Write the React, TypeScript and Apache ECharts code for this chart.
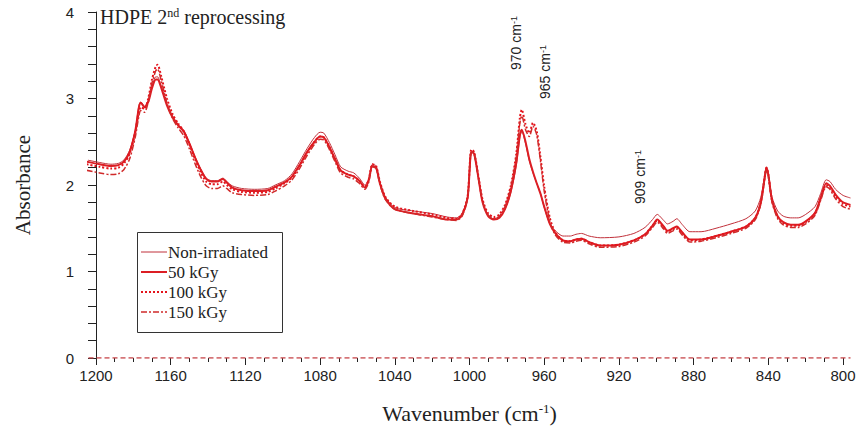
import React, { useEffect, useRef } from "react";
import * as echarts from "echarts";

const wavenumbers = [
  1205, 1198, 1192, 1188, 1185, 1182, 1179, 1177, 1176, 1174, 1172, 1170, 1168, 1167, 1165, 1162, 1159, 1156, 1153, 1150,
  1147, 1144, 1141, 1138, 1135, 1132, 1130, 1127, 1122, 1115, 1108, 1104, 1099, 1095, 1091, 1087, 1083, 1080, 1078, 1075,
  1072, 1069, 1065, 1062, 1059, 1056, 1054, 1052, 1050, 1048, 1045, 1040, 1030, 1020, 1012, 1007, 1004, 1001, 999, 997.5,
  995, 993, 990, 987, 984, 981, 978, 975, 973, 972, 970, 968, 966, 964, 962, 960, 957, 954, 950, 946,
  943, 940, 936, 930, 920, 912, 906, 902, 899.5, 896, 894, 891, 889, 886, 882, 876, 868, 860, 852, 847,
  844, 842, 841, 840, 838, 835, 832, 828, 824, 820, 815, 812, 809, 807, 804, 800, 796,
];

const nonIrradiated = [
  2.29, 2.26, 2.24, 2.25, 2.29, 2.40, 2.63, 2.92, 2.96, 2.91, 2.98, 3.14, 3.25, 3.25, 3.14, 2.93, 2.80, 2.70, 2.63, 2.49,
  2.33, 2.19, 2.08, 2.05, 2.05, 2.08, 2.04, 1.99, 1.96, 1.95, 1.96, 2.00, 2.05, 2.13, 2.27, 2.42, 2.55, 2.61, 2.60, 2.49,
  2.35, 2.21, 2.16, 2.14, 2.08, 2.00, 2.07, 2.24, 2.22, 2.04, 1.86, 1.74, 1.70, 1.67, 1.63, 1.62, 1.67, 1.86, 2.39, 2.37,
  2.06, 1.81, 1.65, 1.61, 1.63, 1.72, 1.90, 2.22, 2.56, 2.62, 2.48, 2.28, 2.14, 2.02, 1.90, 1.74, 1.55, 1.47, 1.41, 1.41,
  1.43, 1.44, 1.41, 1.39, 1.40, 1.44, 1.51, 1.60, 1.66, 1.59, 1.55, 1.58, 1.61, 1.54, 1.46, 1.46, 1.50, 1.55, 1.61, 1.70,
  1.86, 2.10, 2.21, 2.14, 1.86, 1.70, 1.64, 1.62, 1.62, 1.66, 1.75, 1.90, 2.06, 2.04, 1.95, 1.88, 1.85,
];

const kGy50 = [
  2.27, 2.24, 2.22, 2.23, 2.27, 2.38, 2.62, 2.90, 2.95, 2.90, 2.96, 3.12, 3.22, 3.22, 3.12, 2.92, 2.78, 2.69, 2.62, 2.48,
  2.32, 2.18, 2.07, 2.04, 2.04, 2.07, 2.03, 1.97, 1.94, 1.93, 1.94, 1.98, 2.03, 2.10, 2.23, 2.38, 2.50, 2.56, 2.55, 2.44,
  2.30, 2.17, 2.12, 2.10, 2.05, 1.97, 2.05, 2.22, 2.20, 2.02, 1.84, 1.72, 1.67, 1.64, 1.60, 1.60, 1.65, 1.85, 2.38, 2.36,
  2.05, 1.80, 1.64, 1.60, 1.62, 1.72, 1.92, 2.25, 2.58, 2.64, 2.50, 2.30, 2.15, 2.02, 1.90, 1.75, 1.55, 1.44, 1.36, 1.35,
  1.37, 1.38, 1.34, 1.30, 1.31, 1.36, 1.43, 1.53, 1.60, 1.52, 1.47, 1.50, 1.52, 1.45, 1.37, 1.37, 1.41, 1.46, 1.52, 1.62,
  1.80, 2.08, 2.20, 2.12, 1.82, 1.64, 1.57, 1.54, 1.54, 1.58, 1.68, 1.85, 2.02, 1.99, 1.89, 1.80, 1.77,
];

const kGy100 = [
  2.24, 2.21, 2.19, 2.20, 2.25, 2.36, 2.60, 2.85, 2.90, 2.88, 3.00, 3.22, 3.37, 3.39, 3.25, 3.00, 2.82, 2.71, 2.62, 2.47,
  2.30, 2.15, 2.04, 2.01, 2.01, 2.04, 2.00, 1.95, 1.92, 1.91, 1.92, 1.96, 2.02, 2.09, 2.22, 2.37, 2.50, 2.56, 2.55, 2.44,
  2.30, 2.17, 2.12, 2.10, 2.05, 1.98, 2.06, 2.24, 2.22, 2.04, 1.86, 1.75, 1.70, 1.66, 1.62, 1.61, 1.66, 1.87, 2.41, 2.38,
  2.07, 1.83, 1.67, 1.63, 1.66, 1.77, 1.98, 2.35, 2.78, 2.87, 2.70, 2.60, 2.72, 2.62, 2.32, 1.98, 1.62, 1.45, 1.36, 1.35,
  1.37, 1.38, 1.34, 1.30, 1.31, 1.36, 1.43, 1.53, 1.59, 1.51, 1.46, 1.49, 1.51, 1.44, 1.36, 1.37, 1.41, 1.46, 1.52, 1.62,
  1.80, 2.08, 2.20, 2.12, 1.82, 1.63, 1.56, 1.53, 1.53, 1.57, 1.67, 1.84, 2.00, 1.97, 1.87, 1.78, 1.75,
];

const kGy150 = [
  2.17, 2.14, 2.12, 2.13, 2.18, 2.30, 2.55, 2.80, 2.86, 2.84, 2.96, 3.18, 3.32, 3.34, 3.20, 2.95, 2.77, 2.66, 2.57, 2.42,
  2.25, 2.10, 1.99, 1.96, 1.96, 1.99, 1.96, 1.91, 1.89, 1.88, 1.89, 1.93, 1.99, 2.06, 2.19, 2.34, 2.47, 2.53, 2.52, 2.41,
  2.27, 2.14, 2.09, 2.07, 2.02, 1.95, 2.03, 2.21, 2.19, 2.01, 1.83, 1.72, 1.67, 1.63, 1.60, 1.59, 1.64, 1.85, 2.39, 2.36,
  2.05, 1.81, 1.65, 1.61, 1.64, 1.75, 1.96, 2.32, 2.72, 2.80, 2.64, 2.56, 2.68, 2.58, 2.28, 1.93, 1.58, 1.42, 1.34, 1.33,
  1.35, 1.36, 1.32, 1.28, 1.29, 1.34, 1.41, 1.51, 1.57, 1.49, 1.44, 1.47, 1.49, 1.42, 1.34, 1.35, 1.39, 1.44, 1.50, 1.60,
  1.78, 2.06, 2.18, 2.10, 1.80, 1.61, 1.54, 1.51, 1.51, 1.55, 1.65, 1.82, 1.98, 1.95, 1.84, 1.75, 1.72,
];

const baselineX = [1204, 796];
const baselineY = [0, 0];

const seriesNames = ["Non-irradiated", "50 kGy", "100 kGy", "150 kGy"];
const xTicks = [1200, 1160, 1120, 1080, 1040, 1000, 960, 920, 880, 840, 800];
const xMinorTicks = [
  1190, 1180, 1170, 1150, 1140, 1130, 1110, 1100, 1090, 1070, 1060, 1050, 1030, 1020, 1010, 990, 980, 970, 950, 940, 930,
  910, 900, 890, 870, 860, 850, 830, 820, 810,
];
const xRange = [796, 1204];
const yTicks = [0, 1, 2, 3, 4];

const pair = (ys: number[]) => wavenumbers.map((w, i) => [w, ys[i]]);

export default function App() {
  const ref = useRef<HTMLDivElement>(null);
  useEffect(() => {
    if (!ref.current) return;
    document.body.style.margin = "0";
    const chart = echarts.init(ref.current, null, { renderer: "svg" });
    const red = "#dc1e24";
    const sans = "Liberation Sans";
    const serif = "Liberation Serif";
    const mkSeries = (name: string, ys: number[], width: number, color: string, type: any) => ({
      name,
      type: "line",
      data: pair(ys),
      showSymbol: false,
      symbol: "none",
      smooth: 0.25,
      lineStyle: { width, color, type },
      z: 3,
    });
    chart.setOption({
      animation: false,
      grid: { left: 88.5, right: 7.5, top: 12, bottom: 69, containLabel: false, outerBoundsMode: "none" },
      xAxis: [
        {
          type: "value",
          min: xRange[0],
          max: xRange[1],
          inverse: true,
          axisLine: { show: false },
          axisTick: { show: true, length: 7, customValues: xTicks, lineStyle: { color: "#222" } },
          splitLine: { show: false },
          axisLabel: {
            fontFamily: sans,
            fontSize: 15,
            color: "#222",
            margin: 10,
            customValues: xTicks,
            formatter: (v: number) => String(v),
          },
          name: "{a|Wavenumber (cm}{s|-1}{a|)}",
          nameLocation: "middle",
          nameGap: 44,
          nameTextStyle: {
            rich: {
              a: { fontFamily: serif, fontSize: 22, color: "#222" },
              s: { fontFamily: serif, fontSize: 13, color: "#222", verticalAlign: "top" },
            },
          },
        },
        {
          type: "value",
          min: xRange[0],
          max: xRange[1],
          inverse: true,
          position: "bottom",
          axisLine: { show: false },
          axisTick: { show: true, length: 4, customValues: xMinorTicks, lineStyle: { color: "#222" } },
          axisLabel: { show: false },
          splitLine: { show: false },
        },
      ],
      yAxis: {
        type: "value",
        min: yTicks[0],
        max: yTicks[yTicks.length - 1],
        interval: 1,
        position: "left",
        offset: 88.5 - 96,
        axisLine: { show: true, onZero: false, lineStyle: { color: "#222", width: 1 } },
        axisTick: { show: true, length: 8, lineStyle: { color: "#222" } },
        minorTick: { show: true, splitNumber: 5, length: 8, lineStyle: { color: "#222" } },
        splitLine: { show: false },
        axisLabel: { fontFamily: sans, fontSize: 15, color: "#222", margin: 22 },
        name: "Absorbance",
        nameLocation: "middle",
        nameGap: 63,
        nameTextStyle: { fontFamily: serif, fontSize: 21, color: "#222" },
      },
      series: [
        {
          name: "baseline",
          type: "line",
          data: baselineX.map((x, i) => [x, baselineY[i]]),
          showSymbol: false,
          symbol: "none",
          lineStyle: { width: 1.5, color: "#c8484c", type: [5, 3] },
          z: 2,
        },
        mkSeries(seriesNames[0], nonIrradiated, 1, "#c0303a", "solid"),
        mkSeries(seriesNames[1], kGy50, 2, red, "solid"),
        mkSeries(seriesNames[2], kGy100, 2, "#e4141c", [2, 2]),
        mkSeries(seriesNames[3], kGy150, 1.5, "#d02a2a", [6, 2, 2, 2]),
      ],
      graphic: [
        {
          type: "text",
          left: 100,
          top: 7,
          style: {
            text: "{a|HDPE 2}{s|nd}{a| reprocessing}",
            rich: {
              a: { fontFamily: serif, fontSize: 20, fill: "#222" },
              s: { fontFamily: serif, fontSize: 12, fill: "#222", verticalAlign: "top" },
            },
          },
        },
        ...[
          { label: "970", x: 516, y: 43 },
          { label: "965", x: 545, y: 72 },
          { label: "909", x: 640, y: 177 },
        ].map((a) => ({
          type: "text",
          x: a.x,
          y: a.y,
          rotation: Math.PI / 2,
          style: {
            text: `{a|${a.label} cm}{s|-1}`,
            align: "center",
            verticalAlign: "middle",
            rich: {
              a: { fontFamily: sans, fontSize: 14, fill: "#222" },
              s: { fontFamily: sans, fontSize: 9, fill: "#222", verticalAlign: "top" },
            },
          },
        })),
        {
          type: "rect",
          shape: { x: 137.5, y: 232.5, width: 145, height: 100 },
          style: { fill: "#fff", stroke: "#333", lineWidth: 1 },
          z: 10,
        },
        ...seriesNames.flatMap((n, i) => {
          const y = 252 + i * 20;
          const styles = [
            { w: 1, c: "#c0303a", d: null },
            { w: 2, c: red, d: null },
            { w: 2, c: "#e4141c", d: [2, 2] },
            { w: 1.5, c: "#d02a2a", d: [6, 2, 2, 2] },
          ][i];
          return [
            {
              type: "line",
              shape: { x1: 141, y1: y, x2: 167, y2: y },
              style: { stroke: styles.c, lineWidth: styles.w, lineDash: styles.d },
              z: 11,
            },
            {
              type: "text",
              x: 168,
              y,
              style: { text: n, fontFamily: serif, fontSize: 17, fill: "#222", verticalAlign: "middle" },
              z: 11,
            },
          ];
        }),
      ],
    });
    return () => chart.dispose();
  }, []);
  return <div ref={ref} style={{ width: 858, height: 427 }} />;
}
